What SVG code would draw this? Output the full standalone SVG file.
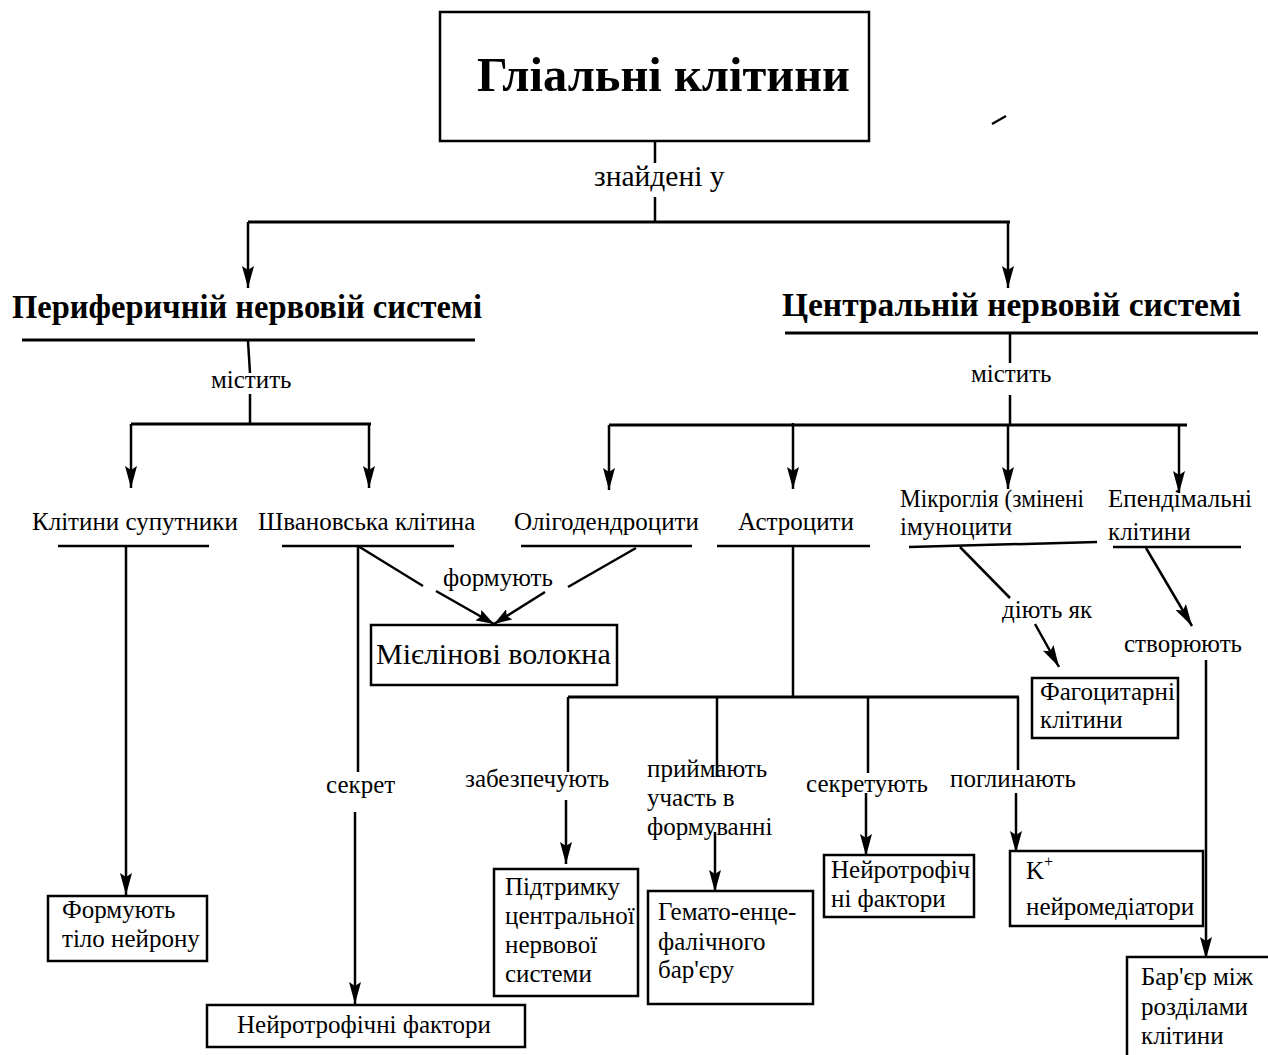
<svg xmlns="http://www.w3.org/2000/svg" width="1268" height="1055" viewBox="0 0 1268 1055">
  <style>
    text { font-family: "Liberation Serif", "Times New Roman", serif; fill: #000; }
    .lbl { font-size: 25px; }
    .big { font-size: 29.5px; }
    .head { font-size: 33px; font-weight: bold; }
    .title { font-size: 48.7px; font-weight: bold; }
    .box { fill: #fff; stroke: #000; stroke-width: 2.5; }
    .ln { fill: none; stroke: #000; stroke-width: 2.5; }
    .bar { fill: none; stroke: #000; stroke-width: 3; }
    .arr { fill: none; stroke: #000; stroke-width: 2.5; marker-end: url(#ah); }
    .arrs { fill: none; stroke: #000; stroke-width: 2.5; marker-end: url(#ahs); }
  </style>
  <defs>
    <marker id="ah" markerUnits="userSpaceOnUse" markerWidth="24" markerHeight="12" refX="22" refY="6" orient="auto">
      <path d="M0,0 L22,6 L0,12 L4,6 z" fill="#000"/>
    </marker>
    <marker id="ahs" markerUnits="userSpaceOnUse" markerWidth="20" markerHeight="12" refX="18" refY="6" orient="auto">
      <path d="M0,0 L18,6 L0,12 L3,6 z" fill="#000"/>
    </marker>
  </defs>

  <rect width="1268" height="1055" fill="#fff"/>

  <!-- connectors -->
  <g id="connectors">
    <!-- title to nervous systems -->
    <line class="ln" x1="655" y1="141" x2="655" y2="163"/>
    <line class="ln" x1="655" y1="197" x2="655" y2="222"/>
    <line class="bar" x1="248" y1="222" x2="1010" y2="222"/>
    <line class="arr" x1="248" y1="222" x2="248" y2="288"/>
    <line class="arr" x1="1008" y1="222" x2="1008" y2="288"/>

    <!-- peripheral branch -->
    <line class="ln" x1="248" y1="341" x2="250" y2="373"/>
    <line class="ln" x1="250" y1="394" x2="250" y2="424"/>
    <line class="bar" x1="131" y1="424" x2="371" y2="424"/>
    <line class="arr" x1="131" y1="424" x2="131" y2="488"/>
    <line class="arr" x1="369" y1="424" x2="369" y2="488"/>

    <!-- satellite cells -->
    <line class="arr" x1="126" y1="546" x2="126" y2="895"/>

    <!-- Schwann cell -->
    <line class="ln" x1="358" y1="546" x2="358" y2="772"/>
    <line class="arr" x1="355" y1="812" x2="355" y2="1004"/>
    <line class="ln" x1="358" y1="546" x2="423" y2="586"/>
    <line class="arrs" x1="436" y1="591" x2="494" y2="624"/>
    <line class="ln" x1="636" y1="548" x2="568" y2="587"/>
    <line class="arrs" x1="545" y1="592" x2="494" y2="624"/>

    <!-- central branch -->
    <line class="ln" x1="1010" y1="333" x2="1010" y2="363"/>
    <line class="ln" x1="1010" y1="395" x2="1010" y2="425"/>
    <line class="bar" x1="609" y1="425" x2="1187" y2="425"/>
    <line class="arr" x1="609" y1="425" x2="609" y2="490"/>
    <line class="arr" x1="793" y1="423" x2="793" y2="489"/>
    <line class="arr" x1="1008" y1="425" x2="1008" y2="489"/>
    <line class="arr" x1="1179" y1="425" x2="1179" y2="493"/>

    <!-- astrocytes -->
    <line class="ln" x1="793" y1="546" x2="793" y2="697"/>
    <line class="bar" x1="568" y1="697" x2="1019" y2="697"/>
    <line class="ln" x1="568" y1="697" x2="568" y2="772"/>
    <line class="arr" x1="566" y1="800" x2="566" y2="864"/>
    <line class="ln" x1="717" y1="697" x2="717" y2="777"/>
    <line class="arr" x1="715" y1="832" x2="715" y2="892"/>
    <line class="ln" x1="868" y1="697" x2="868" y2="773"/>
    <line class="arr" x1="866" y1="793" x2="866" y2="856"/>
    <line class="ln" x1="1018" y1="697" x2="1018" y2="770"/>
    <line class="arr" x1="1016" y1="793" x2="1016" y2="853"/>

    <!-- microglia -->
    <line class="ln" x1="960" y1="547" x2="1010" y2="598"/>
    <line class="arr" x1="1035" y1="624" x2="1059" y2="667"/>

    <!-- ependymal cells -->
    <line class="arr" x1="1146" y1="548" x2="1192" y2="626"/>
    <line class="arr" x1="1206" y1="660" x2="1206" y2="959"/>

    <!-- stray mark near title -->
    <path d="M992,124 L1006,116" fill="none" stroke="#000" stroke-width="2.2"/>
  </g>

  <!-- nodes -->
  <g id="glial-cells">
    <rect class="box" x="440" y="12" width="429" height="129" stroke-width="3"/>
    <text class="title" x="477" y="91" textLength="373" lengthAdjust="spacingAndGlyphs">Гліальні клітини</text>
  </g>

  <g id="found-in">
    <text class="big" x="594" y="186">знайдені у</text>
  </g>

  <g id="pns">
    <text class="head" x="12" y="318" textLength="470" lengthAdjust="spacingAndGlyphs">Периферичній нервовій системі</text>
    <line class="bar" x1="22" y1="340" x2="475" y2="340"/>
  </g>

  <g id="cns">
    <text class="head" x="782" y="316" textLength="459" lengthAdjust="spacingAndGlyphs">Центральній нервовій системі</text>
    <line class="bar" x1="785" y1="333" x2="1258" y2="333"/>
  </g>

  <g id="contains-pns">
    <text class="lbl" x="211" y="388">містить</text>
  </g>

  <g id="contains-cns">
    <text class="lbl" x="971" y="382">містить</text>
  </g>

  <g id="satellite">
    <text class="lbl" x="32" y="530">Клітини супутники</text>
    <line class="ln" x1="58" y1="546" x2="209" y2="546"/>
  </g>

  <g id="schwann">
    <text class="lbl" x="258" y="530">Швановська клітина</text>
    <line class="ln" x1="282" y1="546" x2="454" y2="546"/>
  </g>

  <g id="oligodendrocytes">
    <text class="lbl" x="514" y="530">Олігодендроцити</text>
    <line class="ln" x1="521" y1="546" x2="692" y2="546"/>
  </g>

  <g id="astrocytes">
    <text class="lbl" x="738" y="530">Астроцити</text>
    <line class="ln" x1="717" y1="546" x2="870" y2="546"/>
  </g>

  <g id="microglia">
    <text class="lbl" x="900" y="507" textLength="184" lengthAdjust="spacingAndGlyphs">Мікроглія (змінені</text>
    <text class="lbl" x="900" y="535">імуноцити</text>
    <line class="ln" x1="909" y1="547" x2="1097" y2="542"/>
  </g>

  <g id="ependymal">
    <text class="lbl" x="1108" y="507">Епендімальні</text>
    <text class="lbl" x="1108" y="540">клітини</text>
    <line class="ln" x1="1113" y1="547" x2="1241" y2="547"/>
  </g>

  <g id="form-label">
    <text class="lbl" x="443" y="586">формують</text>
  </g>

  <g id="myelin">
    <rect class="box" x="371" y="625" width="246" height="60"/>
    <text x="376" y="664" font-size="30">Мієлінові волокна</text>
  </g>

  <g id="act-as">
    <text class="lbl" x="1002" y="618">діють як</text>
  </g>

  <g id="create">
    <text class="lbl" x="1124" y="652">створюють</text>
  </g>

  <g id="phagocytes">
    <rect class="box" x="1032" y="678" width="146" height="60"/>
    <text class="lbl" x="1040" y="700">Фагоцитарні</text>
    <text class="lbl" x="1040" y="728">клітини</text>
  </g>

  <g id="form-neuron-body">
    <rect class="box" x="48" y="896" width="159" height="65"/>
    <text class="lbl" x="62" y="918">Формують</text>
    <text class="lbl" x="62" y="947">тіло нейрону</text>
  </g>

  <g id="secrete-label">
    <text class="lbl" x="326" y="793">секрет</text>
  </g>

  <g id="neurotrophic-pns">
    <rect class="box" x="207" y="1005" width="318" height="42"/>
    <text class="lbl" x="237" y="1033">Нейротрофічні фактори</text>
  </g>

  <g id="provide-label">
    <text class="lbl" x="465" y="787">забезпечують</text>
  </g>

  <g id="cns-support">
    <rect class="box" x="494" y="869" width="144" height="127"/>
    <text class="lbl" x="505" y="895">Підтримку</text>
    <text class="lbl" x="505" y="924">центральної</text>
    <text class="lbl" x="505" y="953">нервової</text>
    <text class="lbl" x="505" y="982">системи</text>
  </g>

  <g id="participate-label">
    <text class="lbl" x="647" y="777">приймають</text>
    <text class="lbl" x="647" y="806">участь в</text>
    <text class="lbl" x="647" y="835">формуванні</text>
  </g>

  <g id="bbb">
    <rect class="box" x="648" y="891" width="165" height="113"/>
    <text class="lbl" x="658" y="920">Гемато-енце-</text>
    <text class="lbl" x="658" y="950">фалічного</text>
    <text class="lbl" x="658" y="978">бар'єру</text>
  </g>

  <g id="secrete-cns-label">
    <text class="lbl" x="806" y="792">секретують</text>
  </g>

  <g id="neurotrophic-cns">
    <rect class="box" x="824" y="855" width="150" height="62"/>
    <text class="lbl" x="831" y="878">Нейротрофіч</text>
    <text class="lbl" x="831" y="907">ні фактори</text>
  </g>

  <g id="absorb-label">
    <text class="lbl" x="950" y="787">поглинають</text>
  </g>

  <g id="k-neurotransmitters">
    <rect class="box" x="1010" y="851" width="193" height="75"/>
    <text class="lbl" x="1026" y="879">K<tspan font-size="16" dy="-12">+</tspan></text>
    <text class="lbl" x="1026" y="915">нейромедіатори</text>
  </g>

  <g id="barrier">
    <rect class="box" x="1127" y="957" width="145" height="110"/>
    <text class="lbl" x="1141" y="985">Бар'єр між</text>
    <text class="lbl" x="1141" y="1015">розділами</text>
    <text class="lbl" x="1141" y="1044">клітини</text>
  </g>
</svg>
